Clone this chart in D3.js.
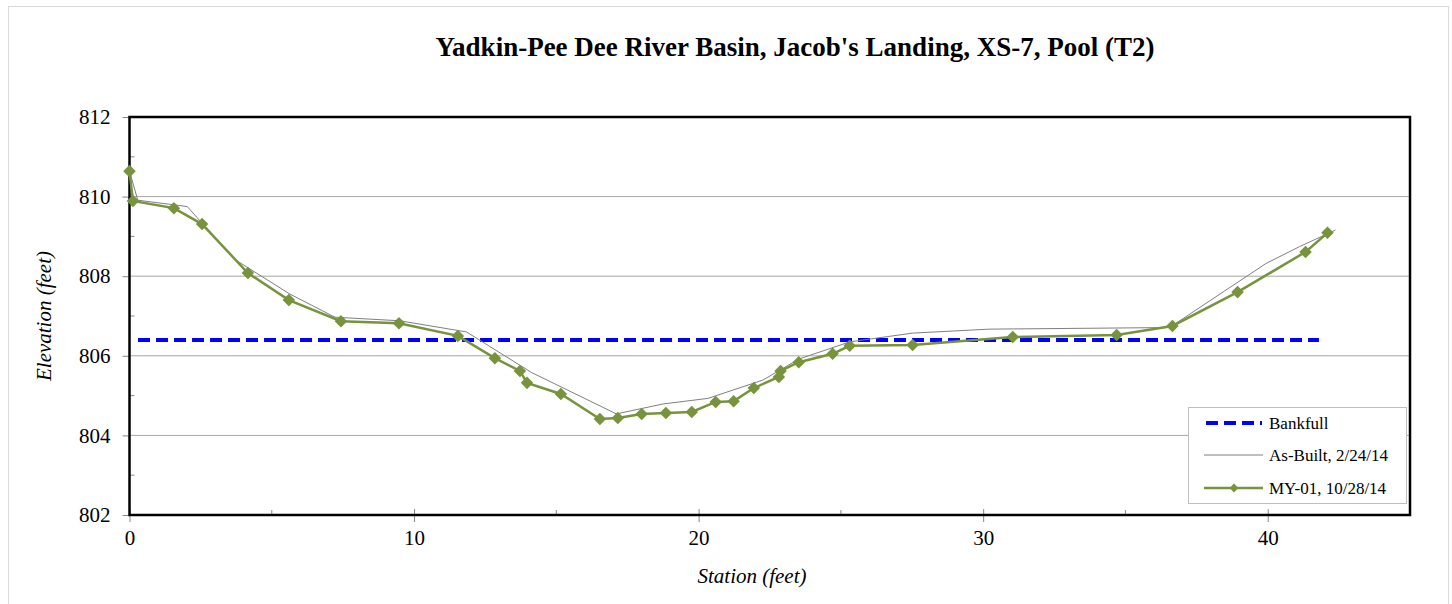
<!DOCTYPE html>
<html><head><meta charset="utf-8">
<script src="https://cdn.jsdelivr.net/npm/d3@7"></script>
<style>body{margin:0;background:#fff}svg{display:block}</style>
</head><body><svg id="c" width="1452" height="604"></svg>
<script>
const title = "Yadkin-Pee Dee River Basin, Jacob's Landing, XS-7, Pool (T2)";
const xTicks = [0, 10, 20, 30, 40];
const yTicks = [802, 804, 806, 808, 810, 812];
const bankfullStation = [0.3, 41.8];
const bankfullElev = 806.4;
const asBuiltStation = [0, 0.29, 2.03, 2.48, 3.7, 5.64, 7.22, 9.5, 11.84, 14.13, 17.11, 18.75, 20.33, 22.26, 23.53, 25.31, 27.52, 30.22, 36.55, 39.94, 41.11, 42.38];
const asBuiltElev = [810.64, 809.91, 809.75, 809.39, 808.42, 807.55, 806.97, 806.88, 806.6, 805.58, 804.54, 804.79, 804.93, 805.39, 805.92, 806.35, 806.57, 806.67, 806.71, 808.32, 808.74, 809.16];
const myStation = [0, 0.12, 1.56, 2.55, 4.16, 5.6, 7.43, 9.47, 11.54, 12.84, 13.72, 13.97, 15.16, 16.53, 17.16, 18.0, 18.85, 19.76, 20.6, 21.23, 21.94, 22.82, 22.88, 23.52, 24.71, 25.31, 27.52, 31.04, 34.69, 36.65, 38.94, 41.33, 42.1];
const myElev = [810.64, 809.89, 809.71, 809.31, 808.08, 807.4, 806.87, 806.82, 806.5, 805.94, 805.62, 805.32, 805.04, 804.41, 804.44, 804.54, 804.56, 804.59, 804.84, 804.86, 805.19, 805.47, 805.62, 805.84, 806.05, 806.25, 806.27, 806.47, 806.52, 806.75, 807.6, 808.61, 809.09];
const legendLabels = ["Bankfull", "As-Built, 2/24/14", "MY-01, 10/28/14"];

const svg = d3.select("#c");
const font = "'Liberation Serif','Times New Roman',serif";
const L = 129.5, R = 1410, T = 117, B = 515;
const x = d3.scaleLinear().domain([0, 45]).range([L, R]);
const y = d3.scaleLinear().domain([802, 812]).range([B, T]);
const green = "#77933C";

// outer frame
svg.append("rect").attr("x", 8.5).attr("y", 6.5).attr("width", 1440).attr("height", 620)
  .attr("fill", "#fff").attr("stroke", "#d9d9d9").attr("stroke-width", 1);

// gridlines
svg.append("g").selectAll("line").data(yTicks.slice(1, -1)).join("line")
  .attr("x1", L).attr("x2", R).attr("y1", d => y(d)).attr("y2", d => y(d))
  .attr("stroke", "#a6a6a6").attr("stroke-width", 1);

// minor ticks y (inside)
svg.append("g").selectAll("line").data(d3.range(803, 812, 2)).join("line")
  .attr("x1", L).attr("x2", L + 5).attr("y1", d => y(d)).attr("y2", d => y(d))
  .attr("stroke", "#888").attr("stroke-width", 1);
// minor ticks x (inside)
svg.append("g").selectAll("line").data([5, 15, 25, 35]).join("line")
  .attr("x1", d => x(d)).attr("x2", d => x(d)).attr("y1", B).attr("y2", B - 5)
  .attr("stroke", "#888").attr("stroke-width", 1);

// axes
const yAxis = d3.axisLeft(y).tickValues(yTicks).tickSize(7).tickPadding(12).tickFormat(d3.format("d"));
const gy = svg.append("g").attr("transform", `translate(${L},0)`).call(yAxis);
gy.select(".domain").remove();
gy.selectAll(".tick line").attr("stroke", "#888");
gy.selectAll("text").attr("font-family", font).attr("font-size", 21).attr("fill", "#000");

const xAxis = d3.axisBottom(x).tickValues(xTicks).tickSize(7).tickPadding(8);
const gx = svg.append("g").attr("transform", `translate(0,${B})`).call(xAxis);
gx.select(".domain").remove();
gx.selectAll(".tick line").attr("stroke", "#888").attr("y1", -6);
gx.selectAll("text").attr("font-family", font).attr("font-size", 21).attr("fill", "#000");

// plot border
svg.append("rect").attr("x", L).attr("y", T).attr("width", R - L).attr("height", B - T)
  .attr("fill", "none").attr("stroke", "#000").attr("stroke-width", 2.5);

// bankfull
svg.append("line").attr("x1", x(bankfullStation[0])).attr("x2", x(bankfullStation[1]))
  .attr("y1", y(bankfullElev)).attr("y2", y(bankfullElev))
  .attr("stroke", "#0000ff").attr("stroke-width", 4).attr("stroke-dasharray", "12,6");

const line = d3.line().x(d => x(d[0])).y(d => y(d[1]));
const asBuilt = asBuiltStation.map((s, i) => [s, asBuiltElev[i]]);
const my = myStation.map((s, i) => [s, myElev[i]]);

svg.append("path").datum(asBuilt).attr("d", line).attr("fill", "none")
  .attr("stroke", "#7f7f7f").attr("stroke-width", 1);
svg.append("path").datum(my).attr("d", line).attr("fill", "none")
  .attr("stroke", green).attr("stroke-width", 2.5);
const diamond = d3.symbol().type(d3.symbolDiamond2).size(100);
svg.append("g").selectAll("path").data(my).join("path")
  .attr("d", diamond).attr("transform", d => `translate(${x(d[0])},${y(d[1])})`)
  .attr("fill", green);

// title
svg.append("text").attr("x", 795).attr("y", 56).attr("text-anchor", "middle")
  .attr("font-family", font).attr("font-weight", "bold").attr("font-size", 27).text(title);

// axis titles
svg.append("text").attr("transform", `translate(51,316) rotate(-90)`).attr("text-anchor", "middle")
  .attr("font-family", font).attr("font-style", "italic").attr("font-size", 21).text("Elevation (feet)");
svg.append("text").attr("x", 752).attr("y", 583).attr("text-anchor", "middle")
  .attr("font-family", font).attr("font-style", "italic").attr("font-size", 21).text("Station (feet)");

// legend
const lg = svg.append("g");
lg.append("rect").attr("x", 1188.5).attr("y", 407.5).attr("width", 218).attr("height", 96)
  .attr("fill", "#fff").attr("stroke", "#bfbfbf").attr("stroke-width", 1);
const ly = [423, 455, 488];
lg.append("line").attr("x1", 1206).attr("x2", 1262).attr("y1", ly[0]).attr("y2", ly[0])
  .attr("stroke", "#0000ff").attr("stroke-width", 4).attr("stroke-dasharray", "12,6");
lg.append("line").attr("x1", 1204).attr("x2", 1263).attr("y1", ly[1]).attr("y2", ly[1])
  .attr("stroke", "#7f7f7f").attr("stroke-width", 1);
lg.append("line").attr("x1", 1204).attr("x2", 1263).attr("y1", ly[2]).attr("y2", ly[2])
  .attr("stroke", green).attr("stroke-width", 2.5);
lg.append("path").attr("d", d3.symbol().type(d3.symbolDiamond2).size(50)).attr("transform", `translate(1234,${ly[2]})`).attr("fill", green);
lg.selectAll("text").data(legendLabels).join("text")
  .attr("x", 1269).attr("y", (d, i) => ly[i] + 6).attr("font-family", font).attr("font-size", 17).text(d => d);
</script></body></html>
